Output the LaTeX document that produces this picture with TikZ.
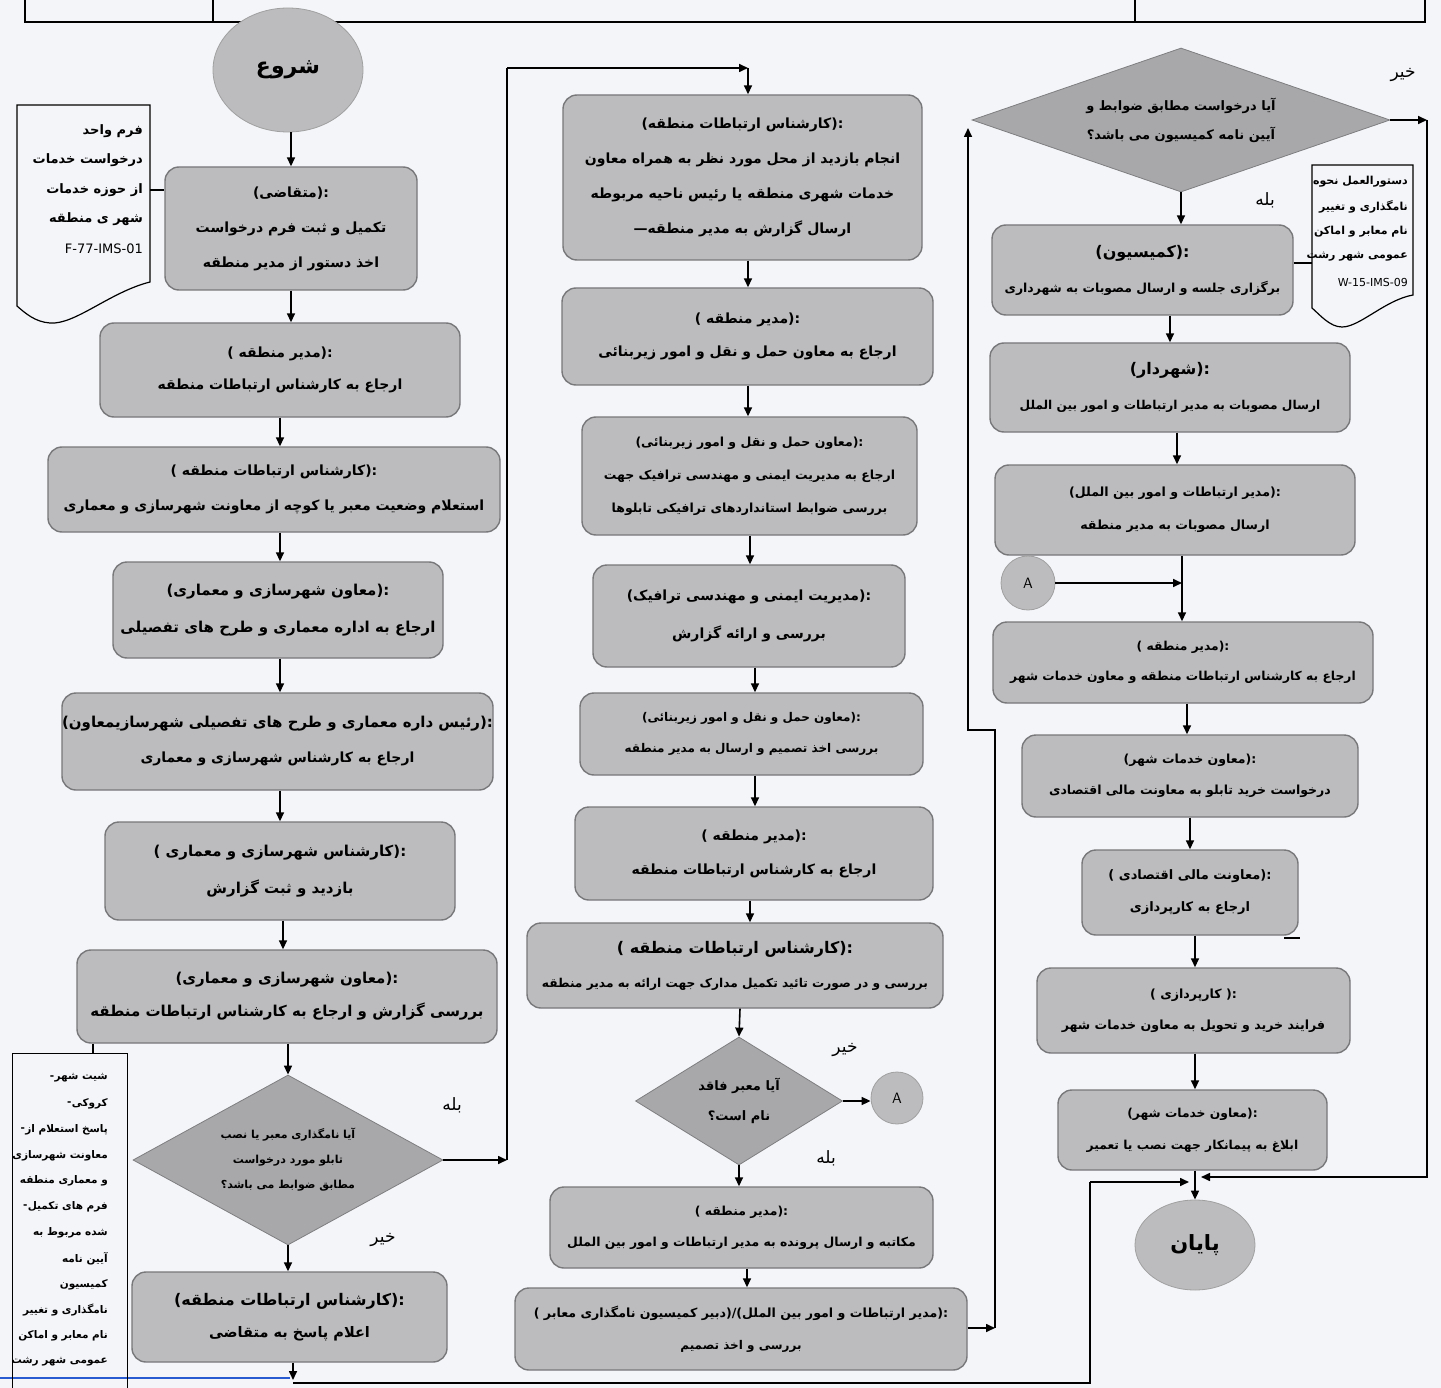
\documentclass[tikz,border=0pt]{standalone}
\usepackage{fontspec}
\usetikzlibrary{shapes.geometric,arrows.meta,calc}
\TeXXeTstate=1
\newfontfamily\fa[Script=Arabic]{DejaVu Sans}
\newfontfamily\lat{DejaVu Sans}
\newcommand\rtl[1]{\beginR #1\endR}
\newcommand\lt[1]{{\lat #1}}
\newcommand\fs[2]{\fontsize{#1}{#2}\selectfont}
\newcommand\hd[1]{\lt{(}\rtl{#1}\lt{):}}
\newcommand\hds[1]{\lt{( }\rtl{#1}\lt{):}}
\definecolor{bg}{RGB}{244,245,249}
\definecolor{boxfill}{RGB}{188,188,190}
\definecolor{boxline}{RGB}{120,120,123}
\definecolor{diafill}{RGB}{168,168,170}
\definecolor{bluel}{RGB}{40,90,210}
\begin{document}
\begin{tikzpicture}[x=1pt,y=-1pt,
 box/.style={draw=boxline, fill=boxfill, line width=1.4pt, rounded corners=14pt, align=center, inner sep=0pt, font=\fa\bfseries\fs{14}{33}},
 dia/.style={diamond, draw=diafill!75!black, fill=diafill, line width=0.8pt, align=center, inner sep=0pt, font=\fa\bfseries\fs{12}{26}},
 term/.style={ellipse, fill=boxfill, draw=boxfill!85!black, line width=0.8pt, inner sep=0pt, font=\fa\bfseries\fs{22}{24}},
 conn/.style={circle, fill=boxfill, draw=boxfill!85!black, line width=0.8pt, minimum size=52pt, inner sep=0pt, font=\sffamily\fs{15}{15}},
 arr/.style={line width=1.6pt, -{Triangle[length=9pt,width=8pt]}},
 ln/.style={line width=1.6pt},
 docshape/.style={draw=black, line width=1.2pt},
 lbl/.style={font=\fa\fs{17}{17}, inner sep=0pt},
 docl/.style={inner sep=0pt, anchor=east}
]
\fill[bg] (0,0) rectangle (1441,1388);
\useasboundingbox (0,0) rectangle (1441,1388);

% header remains
\draw[line width=1.6pt] (25,0) -- (25,22) -- (1425,22) -- (1425,0);
\draw[line width=1.6pt] (213,0) -- (213,22);
\draw[line width=1.6pt] (1135,0) -- (1135,22);
% bottom page edge
\draw[bluel, line width=2pt] (0,1378) -- (290,1378);

% column x coordinates for arrows
\coordinate (X291) at (291,0);
\coordinate (X280) at (280,0);
\coordinate (X283) at (283,0);
\coordinate (X288) at (288,0);
\coordinate (X93) at (93,0);
\coordinate (X740) at (740,0);
\coordinate (X747) at (747,0);
\coordinate (X748) at (748,0);
\coordinate (X750) at (750,0);
\coordinate (X755) at (755,0);
\coordinate (X1170) at (1170,0);
\coordinate (X1177) at (1177,0);
\coordinate (X1182) at (1182,0);
\coordinate (X1187) at (1187,0);
\coordinate (X1190) at (1190,0);
\coordinate (X1195) at (1195,0);

% ---------- left column ----------
\node[term, minimum width=150pt, minimum height=124pt] (start) at (288,70) {\rtl{شروع}};
\node[box, minimum width=252pt, minimum height=123pt, font=\fa\bfseries\fs{14}{35}] (b2) at (291,228.5)
 {\hd{متقاضی}\\\rtl{تکمیل و ثبت فرم درخواست}\\\rtl{اخذ دستور از مدیر منطقه}};
\node[box, minimum width=360pt, minimum height=94pt, font=\fa\bfseries\fs{14}{32}] (b3) at (280,370)
 {\hds{مدیر منطقه}\\\rtl{ارجاع به کارشناس ارتباطات منطقه}};
\node[box, minimum width=452pt, minimum height=85pt, font=\fa\bfseries\fs{14}{35}] (b4) at (274,489.5)
 {\hds{کارشناس ارتباطات منطقه}\\\rtl{استعلام وضعیت معبر یا کوچه از معاونت شهرسازی و معماری}};
\node[box, minimum width=330pt, minimum height=96pt, font=\fa\bfseries\fs{15}{37}] (b5) at (278,610)
 {\hd{معاون شهرسازی و معماری}\\\rtl{ارجاع به اداره معماری و طرح های تفصیلی}};
\node[box, minimum width=431pt, minimum height=97pt, font=\fa\bfseries\fs{15}{35}] (b6) at (277.5,741.5)
 {\hd{رئیس داره معماری و طرح های تفصیلی شهرسازیمعاون}\\{\fs{14}{35}\rtl{ارجاع به کارشناس شهرسازی و معماری}}};
\node[box, minimum width=350pt, minimum height=98pt, font=\fa\bfseries\fs{15}{37}] (b7) at (280,871)
 {\hds{کارشناس شهرسازی و معماری}\\\rtl{بازدید و ثبت گزارش}};
\node[box, minimum width=420pt, minimum height=93pt, font=\fa\bfseries\fs{15}{33}] (b8) at (287,996.5)
 {\hd{معاون شهرسازی و معماری}\\\rtl{بررسی گزارش و ارجاع به کارشناس ارتباطات منطقه}};
\node[dia, shape aspect=1.82, minimum width=310pt, minimum height=170pt, font=\fa\bfseries\fs{11}{25}] (d1) at (288,1160)
 {\rtl{آیا نامگذاری معبر یا نصب}\\\rtl{تابلو مورد درخواست}\\\rtl{مطابق ضوابط می باشد؟}};
\node[box, minimum width=315pt, minimum height=90pt, font=\fa\bfseries\fs{14.5}{32}] (b10) at (289.5,1317)
 {{\fs{16}{32}\hd{کارشناس ارتباطات منطقه}}\\\rtl{اعلام پاسخ به متقاضی}};

% top-left document
\draw[docshape] (17,105) -- (150,105) -- (150,282) .. controls (110,292) and (75,325) .. (50,323) .. controls (35,322) and (25,313) .. (17,306) -- cycle;
\foreach \t [count=\i] in {{\rtl{فرم واحد}},{\rtl{درخواست خدمات}},{\rtl{از حوزه خدمات}},{\rtl{شهر ی منطقه}},{\lat\mdseries F-77-IMS-01}}
 \node[docl, font=\fa\bfseries\fs{13}{13}] (doc1l\i) at (143,{131+29.5*(\i-1)}) {\t};
\coordinate (doc1r) at (150,190);
\draw[ln] (doc1r) -- (doc1r -| b2.west);

% bottom-left document
\node[draw, line width=1.2pt, minimum width=115pt, minimum height=345pt, anchor=north west, inner sep=0pt] (doc2) at (12,1053) {};
\foreach \t [count=\i] in {{\rtl{شیت شهر}},{\rtl{کروکی}},{\rtl{پاسخ استعلام از}},{\rtl{معاونت شهرسازی}},{\rtl{و معماری منطقه}},{\rtl{فرم های تکمیل}},{\rtl{شده مربوط به}},{\rtl{آیین نامه}},{\rtl{کمیسیون}},{\rtl{نامگذاری و تغییر}},{\rtl{نام معابر و اماکن}},{\rtl{عمومی شهر رشت}}}
 \node[docl, font=\fa\bfseries\fs{10.5}{10.5}] (doc2l\i) at (108,{1078+25.8*(\i-1)}) {\t};
\foreach \i in {1,2,3,6}
 \node[docl, font=\lat\bfseries\fs{10.5}{10.5}] (doc2d\i) at (doc2l\i.west) {-};
\draw[ln, line width=1.2pt] (b8.south -| X93) -- (doc2.north -| X93);

% left arrows
\draw[arr] (start.south -| X291) -- (b2.north -| X291);
\draw[arr] (b2.south -| X291) -- (b3.north -| X291);
\draw[arr] (b3.south -| X280) -- (b4.north -| X280);
\draw[arr] (b4.south -| X280) -- (b5.north -| X280);
\draw[arr] (b5.south -| X280) -- (b6.north -| X280);
\draw[arr] (b6.south -| X280) -- (b7.north -| X280);
\draw[arr] (b7.south -| X283) -- (b8.north -| X283);
\draw[arr] (b8.south -| X288) -- (d1.north);
\draw[arr] (d1.south) -- (b10.north -| X288);
\node[lbl] (yes1) at (452,1105) {\rtl{بله}};
\node[lbl] (no1) at (383,1240) {\rtl{خیر}};

% ---------- middle column ----------
\node[box, minimum width=359pt, minimum height=165pt, font=\fa\bfseries\fs{14}{35}] (m1) at (742.5,177.5)
 {\hd{کارشناس ارتباطات منطقه}\\\rtl{انجام بازدید از محل مورد نظر به همراه معاون}\\\rtl{خدمات شهری منطقه یا رئیس ناحیه مربوطه}\\\lt{—}\rtl{ارسال گزارش به مدیر منطقه}};
\node[box, minimum width=371pt, minimum height=97pt, font=\fa\bfseries\fs{14}{33}] (m2) at (747.5,336.5)
 {\hds{مدیر منطقه}\\\rtl{ارجاع  به معاون حمل و نقل و امور زیربنائی}};
\node[box, minimum width=335pt, minimum height=118pt, font=\fa\bfseries\fs{12.5}{33}] (m3) at (749.5,476)
 {\hd{معاون حمل و نقل و امور زیربنائی}\\\rtl{ارجاع به مدیریت ایمنی و مهندسی ترافیک جهت}\\\rtl{بررسی ضوابط استانداردهای ترافیکی تابلوها}};
\node[box, minimum width=312pt, minimum height=102pt, font=\fa\bfseries\fs{14}{38}] (m4) at (749,616)
 {\hd{مدیریت ایمنی و مهندسی ترافیک}\\\rtl{بررسی و ارائه گزارش}};
\node[box, minimum width=343pt, minimum height=82pt, font=\fa\bfseries\fs{12}{31}] (m5) at (751.5,734)
 {\hd{معاون حمل و نقل و امور زیربنائی}\\\rtl{بررسی اخذ تصمیم و ارسال به مدیر منطقه}};
\node[box, minimum width=358pt, minimum height=93pt, font=\fa\bfseries\fs{14}{34}] (m6) at (754,853.5)
 {\hds{مدیر منطقه}\\\rtl{ارجاع به کارشناس ارتباطات منطقه}};
\node[box, minimum width=416pt, minimum height=85pt, font=\fa\bfseries\fs{12.2}{34}] (m7) at (735,965.5)
 {{\fs{16}{34}\hds{کارشناس ارتباطات منطقه}}\\\rtl{بررسی و در صورت تائید تکمیل مدارک جهت ارائه به مدیر منطقه}};
\node[dia, shape aspect=1.62, minimum width=207pt, minimum height=128pt, font=\fa\bfseries\fs{13}{30}] (md) at (739,1101)
 {\rtl{آیا معبر فاقد}\\\rtl{نام است؟}};
\node[conn] (A1) at (897,1098) {A};
\node[box, minimum width=383pt, minimum height=81pt, font=\fa\bfseries\fs{12.4}{31}] (m8) at (741.5,1227.5)
 {\hds{مدیر منطقه}\\\rtl{مکاتبه و ارسال پرونده به مدیر ارتباطات و امور بین الملل}};
\node[box, minimum width=452pt, minimum height=82pt, font=\fa\bfseries\fs{12.6}{32}] (m9) at (741,1329)
 {\lt{( }\rtl{دبیر کمیسیون نامگذاری معابر}\lt{)/(}\rtl{مدیر ارتباطات و امور بین الملل}\lt{):}\\{\fs{12}{32}\rtl{بررسی و اخذ تصمیم}}};

\draw[arr] (m1.south -| X748) -- (m2.north -| X748);
\draw[arr] (m2.south -| X748) -- (m3.north -| X748);
\draw[arr] (m3.south -| X750) -- (m4.north -| X750);
\draw[arr] (m4.south -| X755) -- (m5.north -| X755);
\draw[arr] (m5.south -| X755) -- (m6.north -| X755);
\draw[arr] (m6.south -| X750) -- (m7.north -| X750);
\draw[arr] (m7.south -| X740) -- (md.north);
\draw[arr] (md.south) -- (m8.north -| md.south);
\draw[arr] (m8.south -| X747) -- (m9.north -| X747);
\draw[arr] (md.east) -- (md.east -| A1.west);
\node[lbl] (no2) at (845,1050) {\rtl{خیر}};
\node[lbl] (yes2) at (826,1158) {\rtl{بله}};

% yes branch of d1 to m1
\coordinate (pY1) at (507,1160);
\coordinate (pY2) at (507,68);
\coordinate (pY3) at (748,68);
\draw[arr] (d1.east) -- (pY1);
\draw[ln] (pY1) -- (pY2);
\draw[arr] (pY2) -- (pY3);
\draw[arr] (pY3) -- (m1.north -| pY3);

% ---------- right column ----------
\node[dia, shape aspect=2.9, minimum width=418pt, minimum height=144pt, font=\fa\bfseries\fs{13}{29}] (rd) at (1181,120)
 {\rtl{آیا درخواست مطابق ضوابط و}\\\rtl{آیین نامه کمیسیون می باشد؟}};
\node[box, minimum width=301pt, minimum height=90pt, font=\fa\bfseries\fs{12.4}{35}] (r1) at (1142.5,270)
 {{\fs{16}{35}\hd{کمیسیون}}\\\rtl{برگزاری جلسه و ارسال مصوبات به شهرداری}};
\node[box, minimum width=360pt, minimum height=89pt, font=\fa\bfseries\fs{12.2}{35}] (r2) at (1170,387.5)
 {{\fs{16}{35}\hd{شهردار}}\\\rtl{ارسال مصوبات به مدیر ارتباطات و امور بین الملل}};
\node[box, minimum width=360pt, minimum height=90pt, font=\fa\bfseries\fs{12.6}{33}] (r3) at (1175,510)
 {\hd{مدیر ارتباطات و امور بین الملل}\\\rtl{ارسال مصوبات به مدیر منطقه}};
\node[conn, minimum size=54pt] (A2) at (1028,583) {A};
\node[box, minimum width=380pt, minimum height=81pt, font=\fa\bfseries\fs{12.3}{30}] (r4) at (1183,662.5)
 {\hds{مدیر منطقه}\\\rtl{ارجاع به کارشناس ارتباطات منطقه و معاون خدمات شهر}};
\node[box, minimum width=336pt, minimum height=82pt, font=\fa\bfseries\fs{12.5}{31}] (r5) at (1190,776)
 {\hd{معاون خدمات شهر}\\\rtl{درخواست خرید تابلو به معاونت مالی اقتصادی}};
\node[box, minimum width=216pt, minimum height=85pt, font=\fa\bfseries\fs{13}{32}] (r6) at (1190,892.5)
 {\hds{معاونت مالی اقتصادی}\\\rtl{ارجاع به کارپردازی}};
\draw[line width=1.2pt] (1284,938) -- (1300,938);
\node[box, minimum width=313pt, minimum height=85pt, font=\fa\bfseries\fs{12.6}{31}] (r7) at (1193.5,1010.5)
 {\lt{( }\rtl{کارپردازی}\lt{ ):}\\\rtl{فرایند خرید و تحویل به معاون خدمات شهر}};
\node[box, minimum width=269pt, minimum height=80pt, font=\fa\bfseries\fs{12.3}{32}] (r8) at (1192.5,1130)
 {\hd{معاون خدمات شهر}\\\rtl{ابلاغ به پیمانکار جهت نصب یا تعمیر}};
\node[term, minimum width=120pt, minimum height=90pt, font=\fa\bfseries\fs{21}{24}] (end) at (1195,1245) {\rtl{پایان}};

% right document
\draw[docshape] (1312,165) -- (1413,165) -- (1413,295) .. controls (1385,300) and (1360,327) .. (1342,327) .. controls (1330,327) and (1320,315) .. (1312,308) -- cycle;
\foreach \t [count=\i] in {{\rtl{دستورالعمل نحوه}},{\rtl{نامگذاری و تغییر}},{\rtl{نام معابر و اماکن}},{\rtl{عمومی شهر رشت}},{\lat\mdseries W-15-IMS-09}}
 \node[docl, font=\fa\bfseries\fs{11}{11}] (doc3l\i) at (1408,{182+25*(\i-1)}) {\t};
\coordinate (doc3l) at (1312,263);
\draw[ln] (r1.east |- doc3l) -- (doc3l);

\draw[arr] (rd.south) -- (r1.north -| rd.south);
\draw[arr] (r1.south -| X1170) -- (r2.north -| X1170);
\draw[arr] (r2.south -| X1177) -- (r3.north -| X1177);
\draw[arr] (r3.south -| X1182) -- (r4.north -| X1182);
\draw[arr] (r4.south -| X1187) -- (r5.north -| X1187);
\draw[arr] (r5.south -| X1190) -- (r6.north -| X1190);
\draw[arr] (r6.south -| X1195) -- (r7.north -| X1195);
\draw[arr] (r7.south -| X1195) -- (r8.north -| X1195);
\draw[arr] (r8.south -| X1195) -- (end.north -| X1195);
\coordinate (jA) at (1182,583);
\draw[arr] (A2.east) -- (jA);
\node[lbl] (no3) at (1403,75) {\rtl{خیر}};
\node[lbl] (yes3) at (1265,200) {\rtl{بله}};

% no branch of rd to end
\coordinate (pN1) at (1427,120);
\coordinate (pN2) at (1427,1177);
\coordinate (endR) at (1201,1177);
\draw[arr] (rd.east) -- (pN1);
\draw[arr] (pN1) -- (pN2) -- (endR);

% m9 to rd
\coordinate (pM1) at (995,1328);
\coordinate (pM2) at (995,730);
\coordinate (pM3) at (968,730);
\coordinate (pM4) at (968,128);
\draw[arr] (m9.east |- pM1) -- (pM1);
\draw[arr] (pM1) -- (pM2) -- (pM3) -- (pM4);

% b10 to end along the bottom
\coordinate (pB0) at (293,1380);
\coordinate (pB1) at (293,1383);
\coordinate (pB2) at (1090,1383);
\coordinate (pB3) at (1090,1182);
\coordinate (endL) at (1189,1182);
\draw[arr] (b10.south -| pB0) -- (pB0);
\draw[ln] (pB1) -- (pB2) -- (pB3);
\draw[arr] (pB3) -- (endL);
\end{tikzpicture}
\end{document}
